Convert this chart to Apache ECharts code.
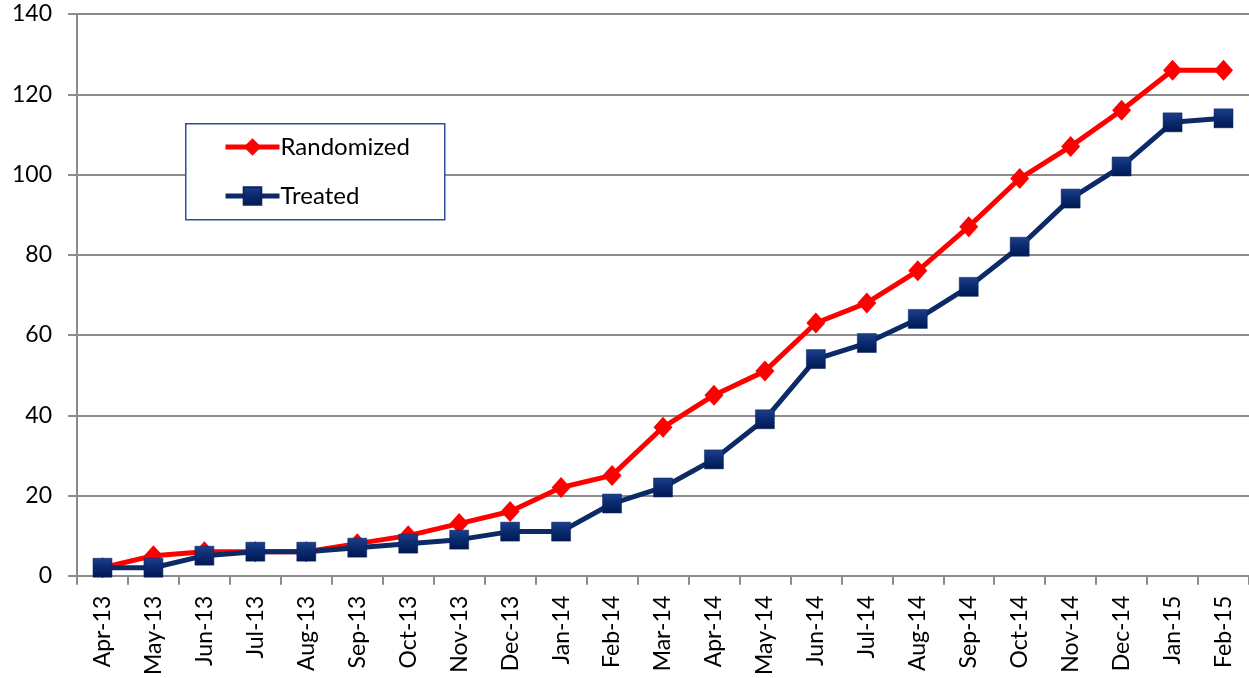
<!DOCTYPE html>
<html>
<head>
<meta charset="utf-8">
<title>Randomized vs Treated</title>
<script src="https://cdn.jsdelivr.net/npm/echarts@6/dist/echarts.min.js"></script>
<style>
  html, body { margin: 0; padding: 0; background: #ffffff; }
  #chart { width: 1249px; height: 678px; }
</style>
</head>
<body>
<div id="chart"></div>
<script>
// Monthly cumulative counts
const months = ['Apr-13','May-13','Jun-13','Jul-13','Aug-13','Sep-13','Oct-13','Nov-13','Dec-13',
  'Jan-14','Feb-14','Mar-14','Apr-14','May-14','Jun-14','Jul-14','Aug-14','Sep-14','Oct-14',
  'Nov-14','Dec-14','Jan-15','Feb-15'];
const randomized = [2, 5, 6, 6, 6, 8, 10, 13, 16, 22, 25, 37, 45, 51, 63, 68, 76, 87, 99, 107, 116, 126, 126];
const treated = [2, 2, 5, 6, 6, 7, 8, 9, 11, 11, 18, 22, 29, 39, 54, 58, 64, 72, 82, 94, 102, 113, 114];
const yTicks = [0, 20, 40, 60, 80, 100, 120, 140];

const FONT = 'Lato';
const GRID_GRAY = '#8c8c8c';
const RED = '#ff0000';
const NAVY = '#0c2a66';

const navyFill = new echarts.graphic.LinearGradient(0, 0, 0, 1, [
  { offset: 0, color: '#1d3f8c' },
  { offset: 0.5, color: '#0a2a6e' },
  { offset: 1, color: '#001852' }
]);

const chart = echarts.init(document.getElementById('chart'), null, { renderer: 'canvas' });

chart.setOption({
  backgroundColor: '#ffffff',
  animation: false,
  grid: { left: 77, top: 14, bottom: 101, width: 1187, containLabel: false },
  graphic: [{
    type: 'rect',
    left: 185, top: 123,
    shape: { width: 259, height: 96 },
    style: { fill: '#ffffff', stroke: '#2f4f9a', lineWidth: 1.5 },
    z: 50
  }],
  legend: {
    orient: 'vertical',
    left: 218, top: 130,
    itemWidth: 54, itemHeight: 22,
    itemGap: 25,
    z: 60,
    lineStyle: { width: 5 },
    textStyle: { fontFamily: FONT, fontSize: 24, color: '#000000', padding: [0, 0, 0, -4] },
    data: ['Randomized', 'Treated']
  },
  xAxis: {
    type: 'category',
    data: months,
    boundaryGap: true,
    axisLine: { lineStyle: { color: GRID_GRAY, width: 2 } },
    axisTick: { show: true, length: 9, alignWithLabel: false, lineStyle: { color: GRID_GRAY, width: 2 } },
    axisLabel: { rotate: 90, interval: 0, margin: 20, fontFamily: FONT, fontSize: 23, color: '#000000' },
    splitLine: { show: false }
  },
  yAxis: {
    type: 'value',
    min: yTicks[0],
    max: yTicks[yTicks.length - 1],
    interval: yTicks[1] - yTicks[0],
    axisLine: { show: true, lineStyle: { color: GRID_GRAY, width: 2 } },
    axisTick: { show: true, length: 9, lineStyle: { color: GRID_GRAY, width: 2 } },
    axisLabel: { margin: 25, fontFamily: FONT, fontSize: 23, color: '#000000' },
    splitLine: { show: true, lineStyle: { color: GRID_GRAY, width: 2 } }
  },
  series: [
    {
      name: 'Randomized',
      type: 'line',
      data: randomized,
      symbol: 'diamond',
      symbolSize: [19, 21],
      showAllSymbol: true,
      lineStyle: { color: RED, width: 5 },
      itemStyle: { color: RED, borderWidth: 0 },
      z: 3
    },
    {
      name: 'Treated',
      type: 'line',
      data: treated,
      symbol: 'rect',
      symbolSize: 19,
      showAllSymbol: true,
      lineStyle: { color: NAVY, width: 5 },
      itemStyle: { color: navyFill, borderColor: '#0a2360', borderWidth: 0.5 },
      z: 4
    }
  ]
});
</script>
</body>
</html>
